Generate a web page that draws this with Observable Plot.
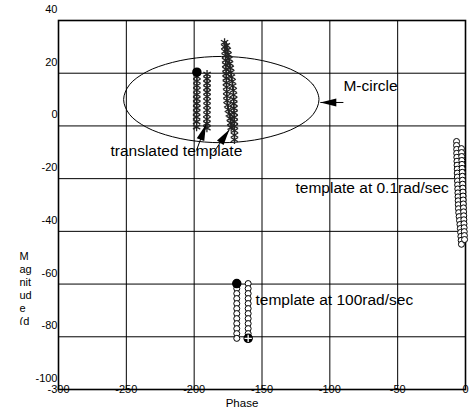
<!DOCTYPE html>
<html><head><meta charset="utf-8">
<script src="https://cdn.jsdelivr.net/npm/d3@7"></script>
<script src="https://cdn.jsdelivr.net/npm/@observablehq/plot@0.6"></script>
<style>body{margin:0;background:#fff;} #chart{width:470px;height:412px;}</style>
</head><body><div id="chart"></div>
<script>
// ---- axis ticks ----
const xTicks = [-300, -250, -200, -150, -100, -50, 0];
const yTicks = [40, 20, 0, -20, -40, -60, -80, -100];
const xLabel = "Phase";
const yLabelLines = ["M", "ag", "nit", "ud", "e", "(d"];

// ---- M-circle (phase deg, magnitude dB) ----
const mCirclePhase = [-108, -112.3, -124.8, -144, -167.5, -192.5, -216, -235.2, -247.7, -252, -247.7, -235.2, -216, -192.5, -167.5, -144, -124.8, -112.3];
const mCircleMag   = [10, 15.6, 20.5, 24.1, 26.1, 26.1, 24.1, 20.5, 15.6, 10, 4.4, -0.5, -4.1, -6.1, -6.1, -4.1, -0.5, 4.4];

// ---- translated template (stars) ----
const transPhase = [
  -198.0,-198.0,-198.0,-198.0,-198.0,-198.1,-198.1,-198.1,-198.1,-198.2,-198.2,-198.2,-198.2,
  -190.5,-190.5,-190.5,-190.5,-190.5,-190.5,-190.5,-190.5,-190.5,-190.6,-190.6,-190.6,-190.6,
  -177.6,-177.4,-177.2,-176.9,-176.8,-176.7,-176.5,-176.4,-176.3,-176.2,-176.1,-176.0,-175.9,-175.8,-175.3,-174.8,-174.1,-173.4,-173.0,-172.7,
  -176.3,-175.6,-175.0,-174.4,-173.9,-173.4,-173.0,-172.5,-172.0,-171.6,-171.2,-171.0,-170.9,-170.8,-170.7,-170.6,-170.5,-170.4,-170.4,-170.3,-170.3,-170.3
];
const transMag = [
  20.4,18.7,17.0,15.3,13.6,11.9,10.2,8.5,6.8,5.1,3.4,1.6,-0.4,
  19.6,17.9,16.2,14.5,12.8,11.1,9.4,7.7,6.0,4.3,2.6,0.9,-0.8,
  31.7,30.0,28.3,26.6,24.9,23.2,21.5,19.8,18.1,16.4,14.7,13.0,11.3,9.6,7.9,6.2,4.5,2.8,1.1,-0.6,
  30.5,28.8,27.1,25.4,23.7,22.0,20.3,18.6,16.9,15.2,13.5,11.8,10.1,8.4,6.7,5.0,3.3,1.6,-0.1,-1.8,-3.5,-5.2
];

// ---- template at 0.1 rad/sec (circles) ----
const lowPhase = [
  -6.6,-6.6,-6.5,-6.5,-6.4,-6.3,-6.2,-6.1,-6.1,-6.0,-5.9,-5.8,-5.7,-5.6,-5.5,-5.4,-5.3,-5.2,-5.0,-4.7,-4.4,-4.1,-3.8,-3.6,-3.4,-3.2,-3.0,
  -3.0,-2.9,-2.8,-2.7,-2.6,-2.5,-2.4,-2.3,-2.2,-2.1,-2.0,-1.9,-1.8,-1.7,-1.6,-1.5,-1.4,-1.3,-1.2,-1.1,-1.0,-0.9,-0.8,-0.7
];
const lowMag = [
  -5.9,-7.4,-8.9,-10.4,-11.9,-13.4,-14.9,-16.4,-17.9,-19.4,-20.9,-22.4,-23.9,-25.4,-26.9,-28.4,-29.9,-31.4,-32.9,-34.4,-35.9,-37.4,-38.9,-40.4,-41.9,-43.4,-44.9,
  -8.6,-10.1,-11.6,-13.1,-14.6,-16.1,-17.6,-19.1,-20.6,-22.1,-23.6,-25.1,-26.6,-28.1,-29.6,-31.1,-32.6,-34.1,-35.6,-37.1,-38.6,-40.1,-41.6,-43.1
];

// ---- template at 100 rad/sec (circles) ----
const highPhase = [
  -168.6,-168.6,-168.6,-168.6,-168.6,-168.6,-168.6,-168.6,-168.6,-168.6,-168.6,-168.6,
  -160.2,-160.2,-160.2,-160.2,-160.2,-160.2,-160.2,-160.2,-160.2,-160.2,-160.2,-160.2
];
const highMag = [
  -59.8,-61.7,-63.6,-65.5,-67.4,-69.3,-71.2,-73.1,-75.0,-76.9,-78.8,-80.6,
  -59.8,-61.7,-63.6,-65.5,-67.4,-69.3,-71.2,-73.1,-75.0,-76.9,-78.8,-80.6
];

// ---- highlighted points ----
const nominalPhase = [-198.0, -168.6];
const nominalMag = [20.4, -59.8];
const endPhase = [-160.2];
const endMag = [-80.6];

// ---- annotations ----
const noteText  = ["M-circle", "translated template", "template at 0.1rad/sec", "template at 100rad/sec"];
const notePhase = [-90.0, -261.7, -125.3, -154.8];
const noteMag   = [15.3, -9.7, -23.4, -65.9];

const arrowFromPhase = [-90.0, -198.3, -185.8];
const arrowFromMag   = [8.9, -9.3, -10.1];
const arrowToPhase   = [-107.0, -191.3, -174.0];
const arrowToMag     = [8.9, 0.5, -1.4];

// ---- build tables ----
const zip = (xs, ys) => xs.map((x, i) => ({x, y: ys[i]}));
const mCircle = zip(mCirclePhase, mCircleMag);
const trans = zip(transPhase, transMag);
const low = zip(lowPhase, lowMag);
const high = zip(highPhase, highMag);
const nominal = zip(nominalPhase, nominalMag);
const endPts = zip(endPhase, endMag);
const notes = noteText.map((t, i) => ({t, x: notePhase[i], y: noteMag[i]}));
const arrows = arrowFromPhase.map((x1, i) => ({x1, y1: arrowFromMag[i], x2: arrowToPhase[i], y2: arrowToMag[i]}));
const headRotate = [-90, 20, 35];

const headShape = {draw(ctx) { ctx.moveTo(0, 0); ctx.lineTo(4, 16); ctx.lineTo(-4, 16); ctx.closePath(); }};

const FONT = "'Liberation Sans', Arial, Helvetica, sans-serif";

const plot = Plot.plot({
  width: 470, height: 412,
  marginLeft: 58, marginRight: 5, marginTop: 20, marginBottom: 23,
  x: {domain: [-300, 0], axis: null},
  y: {domain: [-100, 40], axis: null},
  style: {fontFamily: FONT, background: "white", color: "black", overflow: "visible"},
  marks: [
    Plot.ruleX(xTicks.slice(1, -1), {x: d => d, stroke: "black", strokeWidth: 1}),
    Plot.ruleY(yTicks.slice(1, -1), {y: d => d, stroke: "black", strokeWidth: 1}),
    Plot.frame({stroke: "black", strokeWidth: 1.6}),
    // tick labels
    Plot.text(xTicks, {x: d => d, frameAnchor: "bottom", text: d => String(d), lineAnchor: "middle", fontSize: 11, fill: "black"}),
    Plot.text(yTicks, {y: d => d, frameAnchor: "left", textAnchor: "end", dx: -1, dy: -11, text: d => String(d), lineAnchor: "middle", fontSize: 11, fill: "black"}),
    Plot.text([xLabel], {frameAnchor: "bottom", dx: -20, dy: 14, lineAnchor: "middle", fontSize: 11.5, fill: "black"}),
    Plot.text([yLabelLines.join("\n")], {frameAnchor: "left", dx: -39, dy: 46, textAnchor: "start", lineAnchor: "top", lineHeight: 1.18, fontSize: 11, fill: "black"}),
    // M-circle
    Plot.line(mCircle, {x: "x", y: "y", curve: "catmull-rom-closed", stroke: "black", strokeWidth: 1}),
    // templates
    Plot.dot(trans, {x: "x", y: "y", symbol: "asterisk", r: 4, stroke: "#222", strokeWidth: 1.3}),
    Plot.dot(low, {x: "x", y: "y", symbol: "circle", r: 3, fill: "white", stroke: "black", strokeWidth: 1}),
    Plot.dot(high, {x: "x", y: "y", symbol: "circle", r: 3, fill: "white", stroke: "black", strokeWidth: 1}),
    Plot.dot(nominal, {x: "x", y: "y", r: 4, fill: "black", stroke: "black"}),
    Plot.dot(endPts, {x: "x", y: "y", r: 4, fill: "black", stroke: "black"}),
    Plot.dot(endPts, {x: "x", y: "y", symbol: "plus", r: 2.5, stroke: "white", strokeWidth: 1.3}),
    // annotations
    Plot.link(arrows, {x1: "x1", y1: "y1", x2: "x2", y2: "y2", stroke: "black", strokeWidth: 1}),
    Plot.dot(arrows, {x: "x2", y: "y2", symbol: headShape, rotate: (d, i) => headRotate[i], fill: "black", stroke: "none"}),
    Plot.text(notes, {x: "x", y: "y", text: "t", textAnchor: "start", lineAnchor: "middle", fontSize: 15.5, fill: "black"})
  ]
});

document.getElementById("chart").appendChild(plot);

// clip the truncated y-axis label like the original
(function () {
  const svgns = "http://www.w3.org/2000/svg";
  const svg = plot;
  const defs = document.createElementNS(svgns, "defs");
  const cp = document.createElementNS(svgns, "clipPath");
  cp.setAttribute("id", "ylab-clip");
  const rect = document.createElementNS(svgns, "rect");
  rect.setAttribute("x", 0); rect.setAttribute("y", 0);
  rect.setAttribute("width", 57); rect.setAttribute("height", 325);
  cp.appendChild(rect); defs.appendChild(cp); svg.insertBefore(defs, svg.firstChild);
  const t = Array.from(svg.querySelectorAll("text")).find(n => n.textContent.includes("nit"));
  if (t) {
    const g = t.parentNode;
    const wrap = document.createElementNS(svgns, "g");
    g.parentNode.insertBefore(wrap, g);
    wrap.appendChild(g);
    wrap.setAttribute("clip-path", "url(#ylab-clip)");
  }
})();
</script>
</body></html>
